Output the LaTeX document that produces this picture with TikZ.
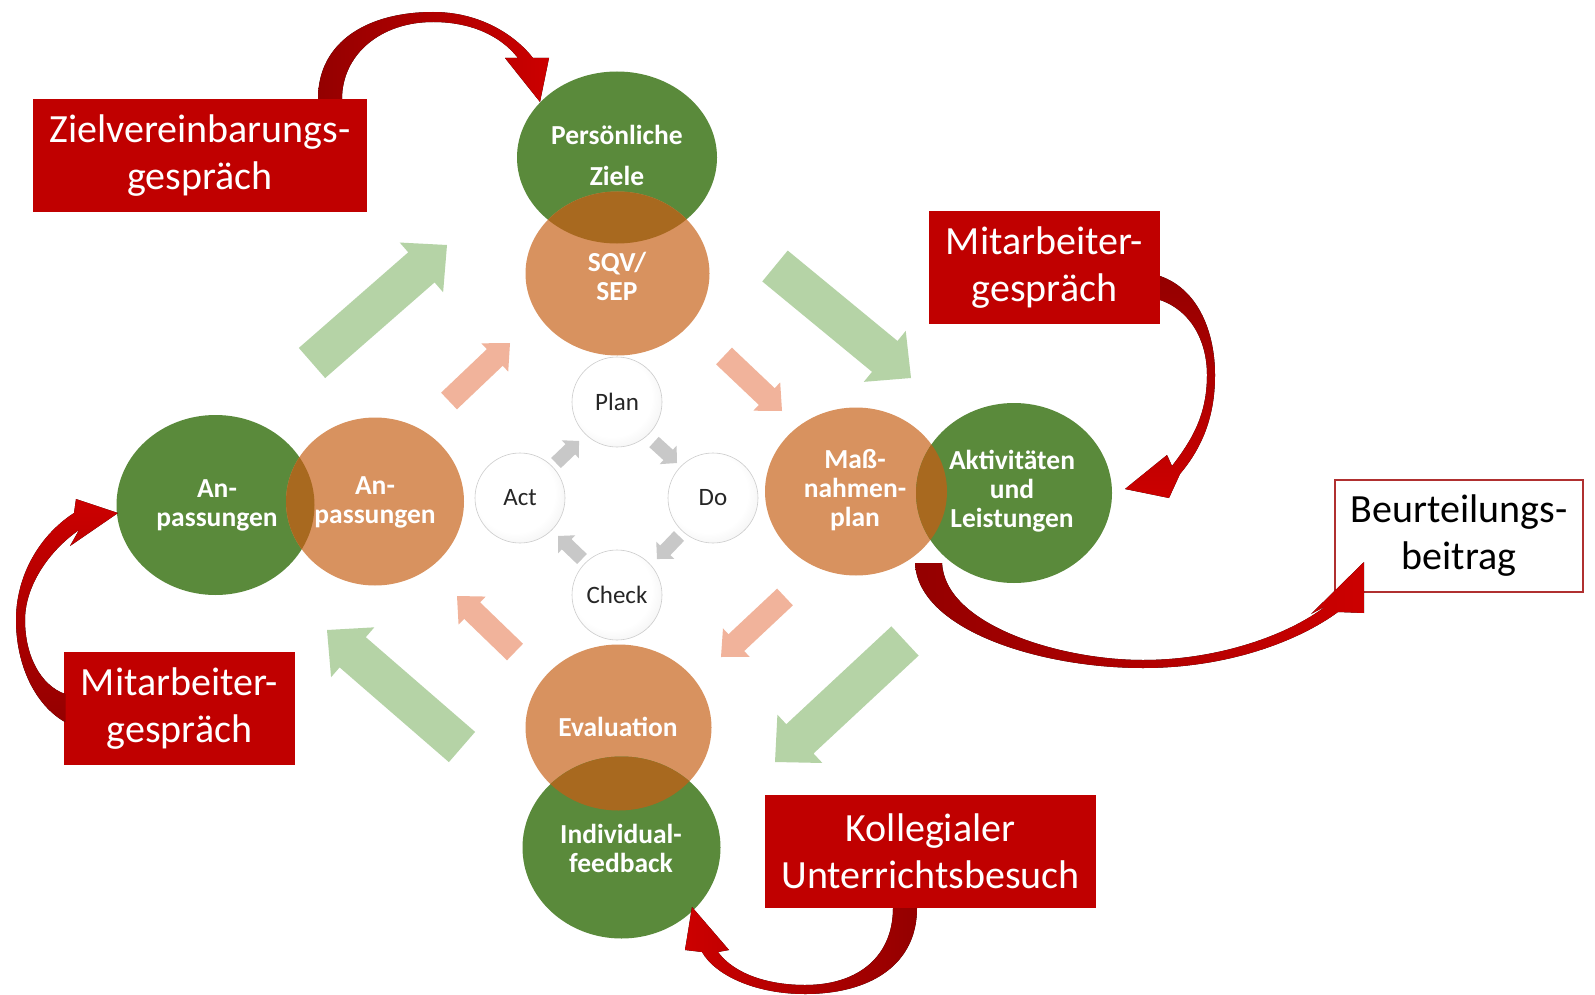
\documentclass[tikz,border=0pt]{standalone}
\usepackage{fontspec}
\setmainfont{Carlito}
\usetikzlibrary{shapes.geometric,calc}
\definecolor{boxred}{HTML}{C00000}
\definecolor{rdark}{HTML}{940000}
\definecolor{rbright}{HTML}{CC0000}
\definecolor{elgreen}{HTML}{5A8A3B}
\definecolor{elorange}{HTML}{D8925F}
\definecolor{elover}{HTML}{A8691F}
\definecolor{arrgreen}{HTML}{B5D3A6}
\definecolor{arrsalmon}{HTML}{F1B39B}
\definecolor{arrgray}{HTML}{C8C8C8}
\definecolor{bordred}{HTML}{B03030}
\pgfdeclareradialshading{pdcashade}{\pgfpoint{-4bp}{4bp}}{color(0bp)=(white); color(22bp)=(white); color(34bp)=(black!7); color(42bp)=(black!17); color(70bp)=(black!22)}
\newcommand{\blockarrow}[6]{%
  \coordinate (bT) at #1; \coordinate (bP) at #2;
  \coordinate (bH) at ($(bP)!#5!(bT)$);
  \fill[#6] ($(bT)!#3!90:(bP)$) -- ($(bH)!#3!-90:(bT)$) -- ($(bH)!#4!-90:(bT)$) -- (bP)
    -- ($(bH)!#4!90:(bT)$) -- ($(bH)!#3!90:(bT)$) -- ($(bT)!#3!-90:(bP)$) -- cycle;
}
\tikzset{
  greenel/.style={ellipse, fill=elgreen, inner sep=0pt},
  orangeel/.style={ellipse, fill=elorange, inner sep=0pt},
  eltext/.style={text=white, font=\bfseries\fontsize{27.5}{29}\selectfont, align=center, inner sep=0pt},
  redbox/.style={fill=boxred, text=white, font=\fontsize{40}{47}\selectfont, align=center, inner sep=0pt, minimum height=113pt},
  whitebox/.style={fill=white, draw=bordred, line width=1.2pt, text=black, font=\fontsize{40}{47}\selectfont, align=center, inner sep=0pt},
  pdca/.style={circle, minimum size=90pt, inner sep=0pt, shading=pdcashade, draw=black!20, line width=0.6pt, text=black!85, font=\fontsize{25}{28}\selectfont},
  bigarrow/.style={fill=arrgreen},
  midarrow/.style={fill=arrsalmon},
  smallarrow/.style={fill=arrgray}
}
\begin{document}
\begin{tikzpicture}[x=1pt,y=-1pt]
\useasboundingbox (0,0) rectangle (1595,995);
\fill[white] (0,0) rectangle (1595,995);

% big green arrows
\blockarrow{(312,363)}{(447,245)}{20pt}{33pt}{34pt}{bigarrow}
\blockarrow{(775,266)}{(911,378)}{20pt}{33pt}{34pt}{bigarrow}
\blockarrow{(905,641)}{(775,762)}{20pt}{33pt}{34pt}{bigarrow}
\blockarrow{(462,747)}{(327,630)}{20pt}{33pt}{34pt}{bigarrow}

% salmon arrows
\blockarrow{(449,401)}{(510,343)}{11.5pt}{19.5pt}{21pt}{midarrow}
\blockarrow{(724,356)}{(782,411)}{11.5pt}{19.5pt}{21pt}{midarrow}
\blockarrow{(785,597)}{(721,657)}{11.5pt}{19.5pt}{21pt}{midarrow}
\blockarrow{(515,652)}{(457,596)}{11.5pt}{19.5pt}{21pt}{midarrow}

% ellipses
\node[greenel, minimum width=200pt, minimum height=172pt] (zg) at (617,157.5) {};
\node[orangeel, minimum width=184pt, minimum height=164pt] (zo) at (617.5,273.5) {};
\node[greenel, minimum width=198pt, minimum height=180pt] (ag) at (215.5,505) {};
\node[orangeel, minimum width=178pt, minimum height=168pt] (ao) at (375,501.5) {};
\node[orangeel, minimum width=182pt, minimum height=168pt] (mo) at (856,491.5) {};
\node[greenel, minimum width=196pt, minimum height=180pt] (mg) at (1014,493) {};
\node[orangeel, minimum width=186pt, minimum height=166pt] (eo) at (618.5,727.5) {};
\node[greenel, minimum width=198pt, minimum height=182pt] (ig) at (621.5,847.5) {};

\begin{scope}
  \clip (zg.center) ellipse [x radius=100, y radius=86];
  \fill[elover] (zo.center) ellipse [x radius=92, y radius=82];
\end{scope}
\begin{scope}
  \clip (ag.center) ellipse [x radius=99, y radius=90];
  \fill[elover] (ao.center) ellipse [x radius=89, y radius=84];
\end{scope}
\begin{scope}
  \clip (mg.center) ellipse [x radius=98, y radius=90];
  \fill[elover] (mo.center) ellipse [x radius=91, y radius=84];
\end{scope}
\begin{scope}
  \clip (ig.center) ellipse [x radius=99, y radius=91];
  \fill[elover] (eo.center) ellipse [x radius=93, y radius=83];
\end{scope}

% ellipse texts
\node[eltext, font=\bfseries\fontsize{27.5}{41}\selectfont] (tzg) at (617,155) {Persönliche\\Ziele};
\node[eltext] (tzo) at (617,276) {SQV/\\SEP};
\node[eltext] (tag) at (217,505) {An-\\passungen};
\node[eltext] (tao) at (375,502) {An-\\passungen};
\node[eltext] (tmo) at (855,490) {Maß-\\nahmen-\\plan};
\node[eltext] (tmg) at (1012,491) {Aktivitäten\\und\\Leistungen};
\node[eltext] (teo) at (618,727) {Evaluation};
\node[eltext] (tig) at (621,848) {Individual-\\feedback};

% PDCA
\node[pdca] (plan) at (617,402) {Plan};
\node[pdca] (do) at (713,498) {Do};
\node[pdca] (check) at (617,595) {Check};
\node[pdca] (act) at (520,498) {Act};
\blockarrow{(556,463)}{(579,441)}{7pt}{12.5pt}{12pt}{smallarrow}
\blockarrow{(654,442)}{(677,463)}{7pt}{12.5pt}{12pt}{smallarrow}
\blockarrow{(679,536)}{(657,559)}{7pt}{12.5pt}{12pt}{smallarrow}
\blockarrow{(582,559)}{(558,536)}{7pt}{12.5pt}{12pt}{smallarrow}

% boxes
\node[redbox, minimum width=334pt] (zv) at (200,155.5) {Zielvereinbarungs-\\gespräch};
\node[redbox, minimum width=231pt] (mr) at (1044.5,267.5) {Mitarbeiter-\\gespräch};
\node[redbox, minimum width=231pt] (ml) at (179.5,708.5) {Mitarbeiter-\\gespräch};
\node[redbox, minimum width=331pt] (ku) at (930.5,851.5) {Kollegialer\\Unterrichtsbesuch};
\node[whitebox, minimum width=248pt, minimum height=112pt] (bb) at (1459,536) {Beurteilungs-\\beitrag};

% red curved arrows
\fill[left color=rdark, right color=rbright]
  (318,99) .. controls (318,40) and (370,12) .. (433,12)
  .. controls (480,12) and (515,35) .. (533,58)
  -- (549,58) -- (540,102) -- (505,58) -- (518,58)
  .. controls (500,35) and (470,22) .. (433,22)
  .. controls (380,22) and (342,55) .. (342,99) -- cycle;
\fill[top color=rdark, bottom color=rbright]
  (1160,276) .. controls (1200,290) and (1215,335) .. (1215,375)
  .. controls (1215,420) and (1200,450) .. (1180,474)
  -- (1169,498) -- (1125,489) -- (1167,455) -- (1172,466)
  .. controls (1192,440) and (1207,415) .. (1207,375)
  .. controls (1207,340) and (1190,310) .. (1160,300) -- cycle;
\fill[left color=rdark, right color=rbright]
  (915,563) .. controls (918,630) and (1040,668) .. (1143,668)
  .. controls (1230,668) and (1300,640) .. (1338,612)
  -- (1364,613) -- (1364,562) -- (1311,614) -- (1326,606)
  .. controls (1290,634) and (1220,660) .. (1143,660)
  .. controls (1060,660) and (945,625) .. (942,563) -- cycle;
\fill[bottom color=rdark, top color=rbright]
  (65,722) .. controls (35,705) and (16,665) .. (16,620)
  .. controls (16,575) and (40,535) .. (74,513)
  -- (76,499) -- (118,513) -- (70,546) -- (79,530)
  .. controls (50,550) and (25,585) .. (25,620)
  .. controls (25,655) and (40,685) .. (65,694) -- cycle;
\fill[right color=rdark, left color=rbright]
  (917,908) .. controls (917,965) and (870,994) .. (805,994)
  .. controls (755,994) and (715,975) .. (702,952)
  -- (685,950) -- (692,907) -- (729,950) -- (718,952)
  .. controls (735,975) and (770,985) .. (805,985)
  .. controls (860,985) and (893,955) .. (893,908) -- cycle;
\end{tikzpicture}
\end{document}
